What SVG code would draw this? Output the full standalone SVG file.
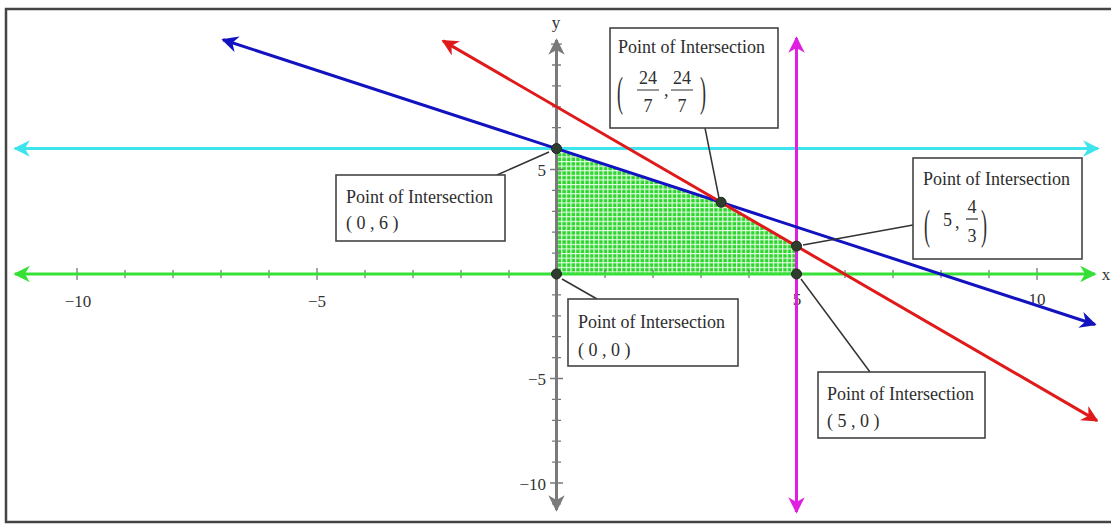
<svg xmlns="http://www.w3.org/2000/svg" width="1111" height="524" viewBox="0 0 1111 524">
<style>
.lbl{font-family:"Liberation Serif","Times New Roman",serif;fill:#2e2e2e;font-size:18px}
.tk{font-family:"Liberation Serif","Times New Roman",serif;fill:#333;font-size:17px}
.box{fill:#fff;stroke:#444;stroke-width:1.6}
.lead{stroke:#333;stroke-width:1.5;fill:none}
.pt{fill:#2f3d2f;stroke:#1e261e;stroke-width:1}
.ln{fill:none;stroke-width:3}
.tick{stroke:#7a7a7a;stroke-width:1.3}
</style>
<defs>
<pattern id="grid" patternUnits="userSpaceOnUse" width="4.6" height="4.6">
<rect width="4.6" height="4.6" fill="#2cd62c"/>
<path d="M0 0.6H4.6M0.6 0V4.6" stroke="#e4fae4" stroke-width="1.2"/>
</pattern>
<marker id="aC" viewBox="0 0 10 10" refX="9" refY="5" markerWidth="5.5" markerHeight="5.5" orient="auto-start-reverse" markerUnits="strokeWidth"><path d="M0 0L10 5L0 10L3 5Z" fill="#3de4ee"/></marker>
<marker id="aG" viewBox="0 0 10 10" refX="9" refY="5" markerWidth="5.5" markerHeight="5.5" orient="auto-start-reverse" markerUnits="strokeWidth"><path d="M0 0L10 5L0 10L3 5Z" fill="#36e036"/></marker>
<marker id="aB" viewBox="0 0 10 10" refX="9" refY="5" markerWidth="5.5" markerHeight="5.5" orient="auto-start-reverse" markerUnits="strokeWidth"><path d="M0 0L10 5L0 10L3 5Z" fill="#1212c0"/></marker>
<marker id="aR" viewBox="0 0 10 10" refX="9" refY="5" markerWidth="5.5" markerHeight="5.5" orient="auto-start-reverse" markerUnits="strokeWidth"><path d="M0 0L10 5L0 10L3 5Z" fill="#e01a1a"/></marker>
<marker id="aM" viewBox="0 0 10 10" refX="9" refY="5" markerWidth="5.5" markerHeight="5.5" orient="auto-start-reverse" markerUnits="strokeWidth"><path d="M0 0L10 5L0 10L3 5Z" fill="#e020e0"/></marker>
<marker id="aY" viewBox="0 0 10 10" refX="9" refY="5" markerWidth="5.5" markerHeight="5.5" orient="auto-start-reverse" markerUnits="strokeWidth"><path d="M0 0L10 5L0 10L3 5Z" fill="#7a7a7a"/></marker>
</defs>
<rect width="1111" height="524" fill="#fff"/>
<rect x="6" y="9" width="1120" height="513" fill="none" stroke="#444" stroke-width="2.5"/>

<g id="region">
<polygon points="556.5,148.6 721.1,202.3 796.5,246.1 796.5,274 556.5,274" fill="url(#grid)"/>
</g>

<g id="axes">
<line x1="556.5" y1="510" x2="556.5" y2="40" class="ln" stroke="#7a7a7a" marker-start="url(#aY)" marker-end="url(#aY)"/>
<g class="tick">
<path d="M77 268V280M125 270V278M173 270V278M221 270V278M269 270V278M317 268V280M365 270V278M413 270V278M461 270V278M509 270V278M605 270V278M653 270V278M701 270V278M749 270V278M797 268V280M845 270V278M893 270V278M941 270V278M989 270V278M1037 268V280"/>
<path d="M551 44.1H562M552 65H561M552 85.9H561M552 106.8H561M552 127.7H561M552 148.6H561M550 169.5H563M552 190.4H561M552 211.3H561M552 232.2H561M552 253.1H561M552 294.9H561M552 315.8H561M552 336.7H561M552 357.6H561M550 378.5H563M552 399.4H561M552 420.3H561M552 441.2H561M552 462.1H561M550 483H563M552 503.9H561"/>
</g>
<text class="tk" x="78" y="307" text-anchor="middle">−10</text>
<text class="tk" x="317" y="307" text-anchor="middle">−5</text>
<text class="tk" x="797" y="305" text-anchor="middle">5</text>
<text class="tk" x="1037" y="305" text-anchor="middle">10</text>
<text class="tk" x="546" y="176" text-anchor="end">5</text>
<text class="tk" x="546" y="385" text-anchor="end">−5</text>
<text class="tk" x="546" y="490" text-anchor="end">−10</text>
<text class="tk" x="556" y="28" text-anchor="middle">y</text>
<text class="tk" x="1106" y="280" text-anchor="middle">x</text>
</g>

<g id="connectors">
<line x1="15" y1="148.6" x2="1098" y2="148.6" class="ln" stroke="#3de4ee" marker-start="url(#aC)" marker-end="url(#aC)"/>
<line x1="15" y1="274" x2="1095" y2="274" class="ln" stroke="#36e036" marker-start="url(#aG)" marker-end="url(#aG)"/>
<line x1="796.5" y1="512" x2="796.5" y2="38" class="ln" stroke="#e020e0" marker-start="url(#aM)" marker-end="url(#aM)"/>
<line x1="223" y1="39.7" x2="1095" y2="324.5" class="ln" stroke="#1212c0" marker-start="url(#aB)" marker-end="url(#aB)"/>
<line x1="443" y1="40.9" x2="1097" y2="420.6" class="ln" stroke="#e01a1a" marker-start="url(#aR)" marker-end="url(#aR)"/>
<path class="lead" d="M705 128L719 198"/>
<path class="lead" d="M497 175L549 152"/>
<path class="lead" d="M913 225L803 245"/>
<path class="lead" d="M562 279L597 299"/>
<path class="lead" d="M801 279L870 372"/>
</g>

<g id="points">
<circle class="pt" cx="556.5" cy="148.6" r="5"/>
<circle class="pt" cx="721.1" cy="202.3" r="5"/>
<circle class="pt" cx="796.5" cy="246.1" r="5"/>
<circle class="pt" cx="556.5" cy="274" r="5"/>
<circle class="pt" cx="796.5" cy="274" r="5"/>
</g>

<g id="p-24-7">
<rect class="box" x="610" y="28" width="168" height="100"/>
<text class="lbl" x="618" y="53">Point of Intersection</text>
<text class="lbl" transform="translate(617,106) scale(1,2.4)" font-size="17">(</text>
<text class="lbl" x="648" y="84" text-anchor="middle">24</text>
<path d="M637 90H659M671 90H693" stroke="#333" stroke-width="1.2"/>
<text class="lbl" x="648" y="112" text-anchor="middle">7</text>
<text class="lbl" x="664" y="96">,</text>
<text class="lbl" x="682" y="84" text-anchor="middle">24</text>
<text class="lbl" x="682" y="112" text-anchor="middle">7</text>
<text class="lbl" transform="translate(700,106) scale(1,2.4)" font-size="17">)</text>
</g>

<g id="p-0-6">
<rect class="box" x="336" y="175" width="169" height="66"/>
<text class="lbl" x="346" y="203">Point of Intersection</text>
<text class="lbl" x="346" y="229">( 0 , 6 )</text>
</g>

<g id="p-5-4-3">
<rect class="box" x="913" y="158" width="169" height="101"/>
<text class="lbl" x="923" y="185">Point of Intersection</text>
<text class="lbl" transform="translate(924,239) scale(1,2.4)" font-size="17">(</text>
<text class="lbl" x="943" y="226">5</text>
<text class="lbl" x="955" y="228">,</text>
<text class="lbl" x="972" y="213" text-anchor="middle" font-size="16">4</text>
<path d="M966 219H978" stroke="#333" stroke-width="1.2"/>
<text class="lbl" x="972" y="242" text-anchor="middle" font-size="16">3</text>
<text class="lbl" transform="translate(981,239) scale(1,2.4)" font-size="17">)</text>
</g>

<g id="p-0-0">
<rect class="box" x="568" y="299" width="170" height="67"/>
<text class="lbl" x="578" y="328">Point of Intersection</text>
<text class="lbl" x="578" y="356">( 0 , 0 )</text>
</g>

<g id="p-5-0">
<rect class="box" x="818" y="372" width="167" height="66"/>
<text class="lbl" x="827" y="400">Point of Intersection</text>
<text class="lbl" x="827" y="427">( 5 , 0 )</text>
</g>
</svg>
